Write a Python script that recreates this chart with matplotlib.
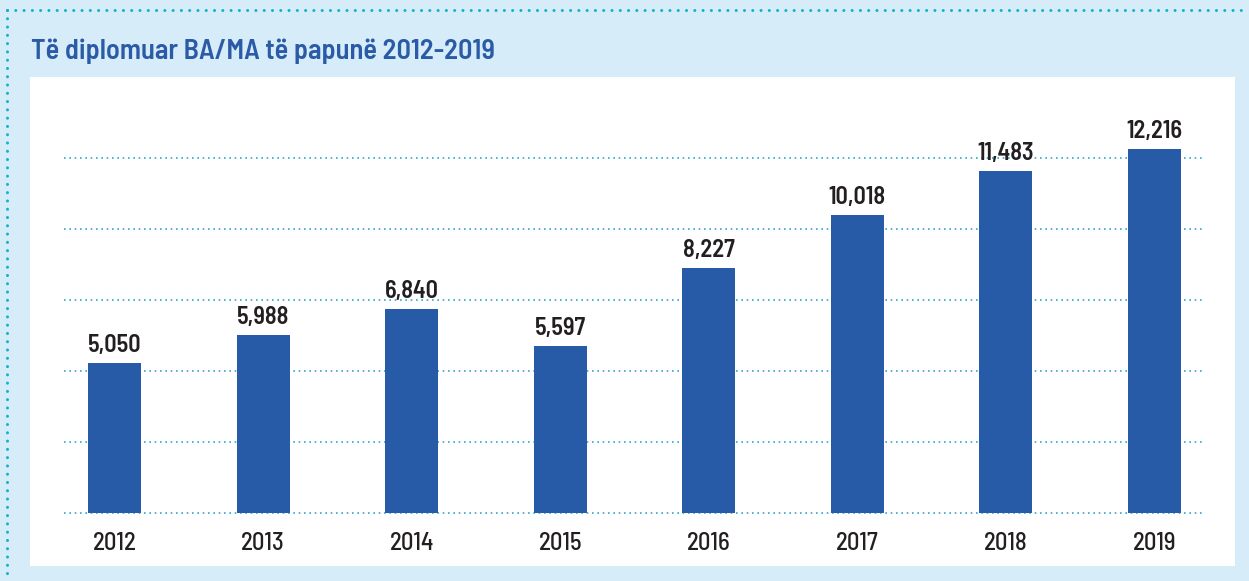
import matplotlib
matplotlib.use("Agg")
import matplotlib.pyplot as plt
from matplotlib.patches import Rectangle
from matplotlib.lines import Line2D
import numpy as np

years = ["2012", "2013", "2014", "2015", "2016", "2017", "2018", "2019"]
values = [5050, 5988, 6840, 5597, 8227, 10018, 11483, 12216]
value_labels = ["5,050", "5,988", "6,840", "5,597", "8,227", "10,018", "11,483", "12,216"]
title = "Të diplomuar BA/MA të papunë 2012-2019"

W, H = 1249, 581
BG = "#d6edf9"
BAR = "#275ba8"
TXT = "#231f20"
TITLE_C = "#2b5aa6"
DOT = "#13b3c9"
GRID = "#3aa6c8"

plt.rcParams['font.family'] = ['Barlow Semi Condensed', 'DejaVu Sans']

fig = plt.figure(figsize=(W / 100, H / 100), dpi=100)
fig.patch.set_facecolor(BG)

def fx(px):
    return px / W

def fy(py):
    return 1 - py / H

fig.patches.append(Rectangle((fx(30), fy(566)), fx(1235) - fx(30), fy(77) - fy(566),
                             transform=fig.transFigure, facecolor="white", edgecolor="none", zorder=-5))
fig.lines.append(Line2D([fx(7), 1.0], [fy(10), fy(10)], transform=fig.transFigure,
                        color=DOT, lw=2.2, linestyle=(0, (0.01, 2.7)), dash_capstyle="round"))
fig.lines.append(Line2D([fx(7), fx(7)], [fy(10), 0.0], transform=fig.transFigure,
                        color=DOT, lw=2.2, linestyle=(0, (0.01, 2.7)), dash_capstyle="round"))

fig.text(fx(31), fy(59.5), title, color=TITLE_C, fontsize=20.4, fontweight="semibold",
         ha="left", va="baseline")

ax_left, ax_right = 64, 1204
ax_bottom, ax_top = 513, 87
ax = fig.add_axes([fx(ax_left), fy(ax_bottom), fx(ax_right) - fx(ax_left), fy(ax_top) - fy(ax_bottom)])
ax.set_facecolor("none")
x = np.arange(len(years))
ax.set_xlim(-0.34, len(years) - 1 + 0.333)
ax.set_ylim(0, 14300)
yt = np.linspace(0, 11900, 6)
for v in yt:
    ax.axhline(v, color=GRID, lw=1.2, linestyle=(0, (1, 2.2)), zorder=1, clip_on=False)

ax.bar(x, values, width=0.357, color=BAR, zorder=2)
for xi, v, lab in zip(x, values, value_labels):
    ax.annotate(lab, (xi, v), xytext=(0, 7.9), textcoords="offset points", ha="center",
                va="baseline", fontsize=17.5, fontweight="semibold", color=TXT)

ax.set_xticks(x)
ax.set_xticklabels(years, fontsize=17.8, color=TXT, fontweight="medium", va="baseline")
ax.tick_params(axis="x", length=0, pad=26.6)
ax.set_yticks([])
for s in ax.spines.values():
    s.set_visible(False)

fig.savefig("out.png", dpi=100, facecolor=BG)
